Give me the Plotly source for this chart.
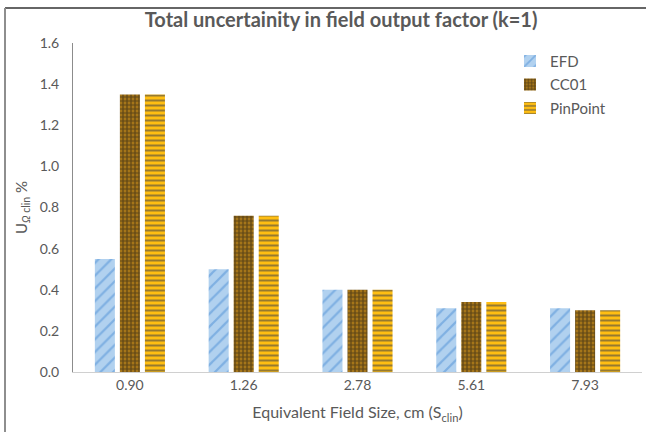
import plotly.graph_objects as go

# Equivalent field sizes (cm) and total uncertainty (%), k=1
field_sizes = ["0.90", "1.26", "2.78", "5.61", "7.93"]
efd = [0.55, 0.50, 0.40, 0.31, 0.31]
cc01 = [1.35, 0.76, 0.40, 0.34, 0.30]
pinpoint = [1.35, 0.76, 0.40, 0.34, 0.30]
y_ticks = [0.0, 0.2, 0.4, 0.6, 0.8, 1.0, 1.2, 1.4, 1.6]

FONT = "Lato"
TEXT = "#595959"

series = [
    ("EFD", efd, dict(shape="/", fgcolor="#4E90D6", bgcolor="#B1D1EF", size=9, solidity=0.25)),
    ("CC01", cc01, dict(shape=".", fgcolor="#1E1A14", bgcolor="#BA841A", size=4, solidity=0.7)),
    ("PinPoint", pinpoint, dict(shape="-", fgcolor="#2E3550", bgcolor="#FFBE12", size=5, solidity=0.4)),
]

fig = go.Figure()
for i, (name, vals, pat) in enumerate(series):
    fig.add_trace(go.Bar(
        name=name,
        x=field_sizes,
        y=vals,
        legendgroup=f"g{i}",
        marker=dict(color=pat["bgcolor"], line=dict(width=0), pattern=pat),
    ))

fig.update_layout(
    width=646,
    height=432,
    margin=dict(l=73, r=4, t=43, b=60),
    paper_bgcolor="white",
    plot_bgcolor="white",
    barmode="group",
    bargap=0.34,
    bargroupgap=0.2,
    font=dict(family=FONT, size=14, color=TEXT),
    title=dict(
        text="<b>Total uncertainity in field output factor (k=1)</b>",
        x=0.528, xanchor="center", y=0.953, yanchor="middle",
        font=dict(family=FONT, size=20, color=TEXT),
    ),
    showlegend=True,
    legend=dict(
        x=0.768, xanchor="left", y=0.995, yanchor="top",
        bgcolor="rgba(0,0,0,0)",
        font=dict(family=FONT, size=15, color=TEXT),
        traceorder="grouped",
        tracegroupgap=1,
    ),
    xaxis=dict(
        type="category",
        showgrid=False,
        showline=True, linecolor="#D0D0D0", linewidth=1,
        ticks="",
        tickfont=dict(family=FONT, size=14, color=TEXT),
        title=dict(text="Equivalent Field Size, cm (S<sub>clin</sub>)",
                   font=dict(family=FONT, size=16, color=TEXT), standoff=15),
    ),
    yaxis=dict(
        range=[0, 1.6],
        tickvals=y_ticks,
        ticktext=[f"{v:.1f}" for v in y_ticks],
        showgrid=False,
        zeroline=False,
        showline=True, linecolor="#8C8C8C", linewidth=1,
        ticks="",
        ticklabelstandoff=10,
        tickfont=dict(family=FONT, size=14, color=TEXT),
        title=dict(text="U<sub><i>Ω</i> clin</sub> %",
                   font=dict(family=FONT, size=15, color=TEXT), standoff=8),
    ),
)

# Outer frame: top and left edges
fig.add_shape(type="line", xref="paper", yref="paper",
              x0=-0.1195, x1=1.01, y0=1.1064, y1=1.1064,
              line=dict(color="#333333", width=1.5))
fig.add_shape(type="line", xref="paper", yref="paper",
              x0=-0.1195, x1=-0.1195, y0=1.1064, y1=-0.19,
              line=dict(color="#8E8E8E", width=2))

fig.write_html("out.html")
